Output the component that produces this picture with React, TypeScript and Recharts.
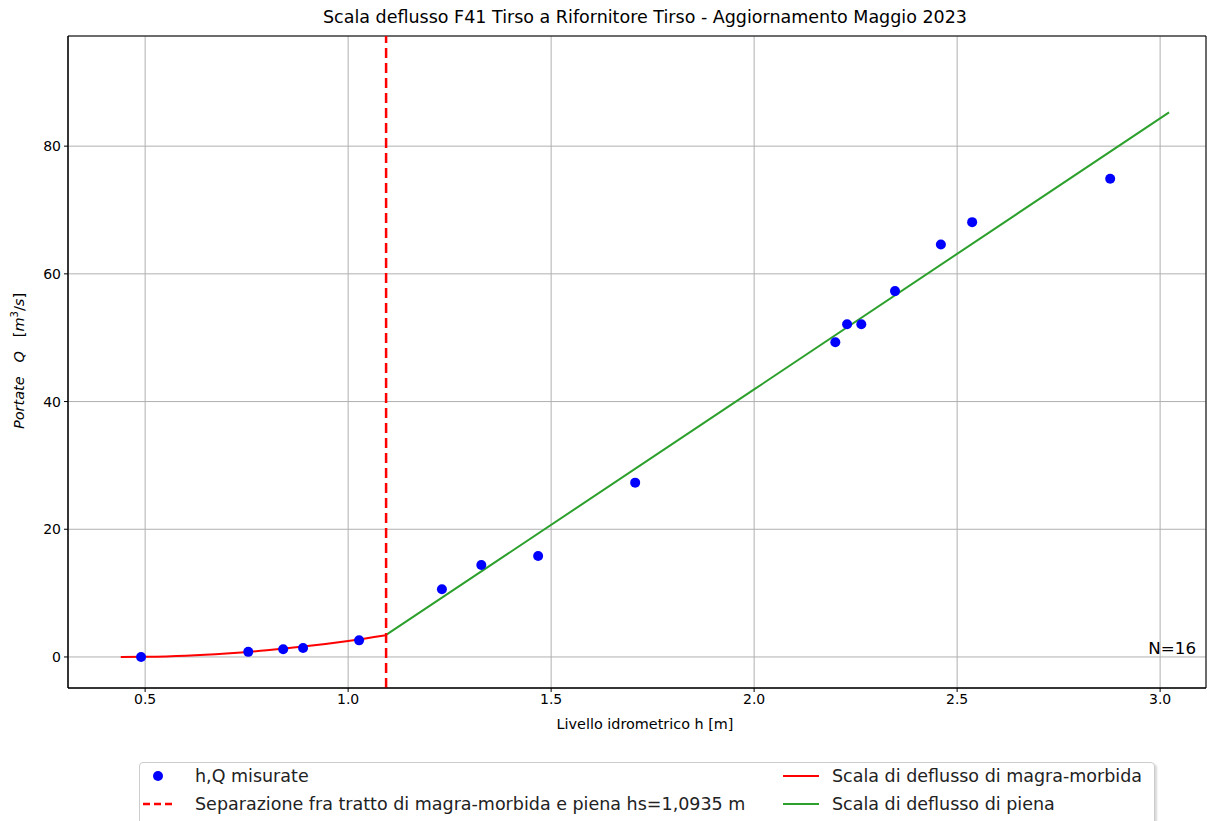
import {
  ComposedChart,
  Line,
  Scatter,
  XAxis,
  YAxis,
  CartesianGrid,
  ReferenceLine,
  ReferenceArea,
} from 'recharts'

// measured points (h [m], Q [m3/s])
const measH = [0.49, 0.754, 0.84, 0.889, 1.027, 1.231, 1.328, 1.468, 1.707, 2.2, 2.229, 2.264, 2.347, 2.46, 2.537, 2.877]
const measQ = [0.0, 0.8, 1.2, 1.4, 2.6, 10.6, 14.4, 15.8, 27.3, 49.3, 52.1, 52.1, 57.3, 64.6, 68.1, 74.9]

// low-flow rating curve (magra-morbida)
const lowH = [0.44, 0.5, 0.6, 0.7, 0.8, 0.9, 1.0, 1.0935]
const lowQ = [0.0, 0.03, 0.2, 0.55, 1.05, 1.7, 2.5, 3.4]

// flood rating curve (piena)
const highH = [1.0935, 2.0, 3.022]
const highQ = [3.45, 41.9, 85.3]

const hs = 1.0935
const xTicks = [0.5, 1.0, 1.5, 2.0, 2.5, 3.0]
const yTicks = [0, 20, 40, 60, 80]
const X_DOMAIN = [0.31, 3.113]
const Y_DOMAIN = [-4.86, 97.25]

const FONT = '"DejaVu Sans", sans-serif'
const RED = '#ff0000'
const GREEN = '#2ca02c'
const BLUE = '#0000ff'

const measData = measH.map((h, i) => ({ h, q: measQ[i] }))
const lowData = lowH.map((h, i) => ({ h, q: lowQ[i] }))
const highData = highH.map((h, i) => ({ h, q: highQ[i] }))

function Dot(props: { cx?: number; cy?: number }) {
  if (props.cx == null || props.cy == null) return null
  return <circle cx={props.cx} cy={props.cy} r={5} fill={BLUE} />
}

const tickStyle = { fontSize: 14, fill: '#000', fontFamily: FONT }

export default function App() {
  return (
    <div style={{ position: 'absolute', left: 0, top: 0, width: 1207, height: 821, background: '#fff', fontFamily: FONT, overflow: 'hidden' }}>
      <div style={{ position: 'absolute', left: 76, width: 1138, top: 7, textAlign: 'center', fontSize: 17.5, color: '#000' }}>
        Scala deflusso F41 Tirso a Rifornitore Tirso - Aggiornamento Maggio 2023
      </div>
      <ComposedChart
        width={1207}
        height={720}
        margin={{ top: 36, right: 1, left: 18, bottom: 2 }}
        style={{ position: 'absolute', left: 0, top: 0 }}
      >
        <CartesianGrid stroke="#b0b0b0" strokeWidth={1} horizontal vertical />
        <XAxis
          dataKey="h"
          type="number"
          domain={X_DOMAIN}
          ticks={xTicks}
          allowDataOverflow
          height={30}
          tickFormatter={(v: number) => v.toFixed(1)}
          tick={tickStyle}
          tickSize={4}
          tickMargin={2}
          stroke="#000"
        />
        <YAxis
          dataKey="q"
          type="number"
          domain={Y_DOMAIN}
          ticks={yTicks}
          allowDataOverflow
          width={50}
          tick={tickStyle}
          tickSize={4}
          tickMargin={3}
          stroke="#000"
        />
        <ReferenceArea
          x1={X_DOMAIN[0]}
          x2={X_DOMAIN[1]}
          y1={Y_DOMAIN[0]}
          y2={Y_DOMAIN[1]}
          fill="none"
          fillOpacity={0}
          stroke="#000"
          strokeWidth={1}
        />
        <Line data={lowData} dataKey="q" type="monotone" stroke={RED} strokeWidth={2} dot={false} isAnimationActive={false} />
        <Line data={highData} dataKey="q" type="linear" stroke={GREEN} strokeWidth={2} dot={false} isAnimationActive={false} />
        <ReferenceLine x={hs} stroke={RED} strokeWidth={2.5} strokeDasharray="10 5" />
        <Scatter data={measData} dataKey="q" shape={<Dot />} isAnimationActive={false} />
      </ComposedChart>

      <div style={{ position: 'absolute', right: 11, top: 638, fontSize: 16.7, color: '#000' }}>N=16</div>

      <div style={{ position: 'absolute', left: 76, width: 1138, top: 716, textAlign: 'center', fontSize: 14.4, color: '#000' }}>
        Livello idrometrico h [m]
      </div>

      <div
        style={{
          position: 'absolute',
          left: 18,
          top: 361,
          transform: 'translate(-50%, -50%) rotate(-90deg)',
          whiteSpace: 'nowrap',
          fontSize: 14.5,
          color: '#000',
        }}
      >
        <i>Portate</i>&nbsp;&nbsp;&nbsp;<i>Q</i>&nbsp;&nbsp;&nbsp;[<i>m</i><sup style={{ fontSize: 10 }}>3</sup>/<i>s</i>]
      </div>

      <div
        style={{
          position: 'absolute',
          left: 139,
          top: 762,
          width: 1014,
          height: 70,
          border: '1px solid #cccccc',
          borderRadius: 4,
          boxShadow: '2px 2px 2px rgba(0,0,0,0.15)',
          fontSize: 17.5,
          color: '#222',
        }}
      >
        <div style={{ position: 'absolute', left: 0, top: 0, height: 26, display: 'flex', alignItems: 'center' }}>
          <svg width={55} height={26}>
            <circle cx={18} cy={13} r={5} fill={BLUE} />
          </svg>
          <span>h,Q misurate</span>
        </div>
        <div style={{ position: 'absolute', left: 0, top: 28, height: 26, display: 'flex', alignItems: 'center' }}>
          <svg width={55} height={26}>
            <line x1={3} x2={32} y1={13} y2={13} stroke={RED} strokeWidth={2.5} strokeDasharray="7 4" />
          </svg>
          <span>Separazione fra tratto di magra-morbida e piena hs=1,0935 m</span>
        </div>
        <div style={{ position: 'absolute', left: 641, top: 0, height: 26, display: 'flex', alignItems: 'center' }}>
          <svg width={51} height={26}>
            <line x1={2} x2={38} y1={13} y2={13} stroke={RED} strokeWidth={2} />
          </svg>
          <span>Scala di deflusso di magra-morbida</span>
        </div>
        <div style={{ position: 'absolute', left: 641, top: 28, height: 26, display: 'flex', alignItems: 'center' }}>
          <svg width={51} height={26}>
            <line x1={2} x2={38} y1={13} y2={13} stroke={GREEN} strokeWidth={2} />
          </svg>
          <span>Scala di deflusso di piena</span>
        </div>
      </div>
    </div>
  )
}
